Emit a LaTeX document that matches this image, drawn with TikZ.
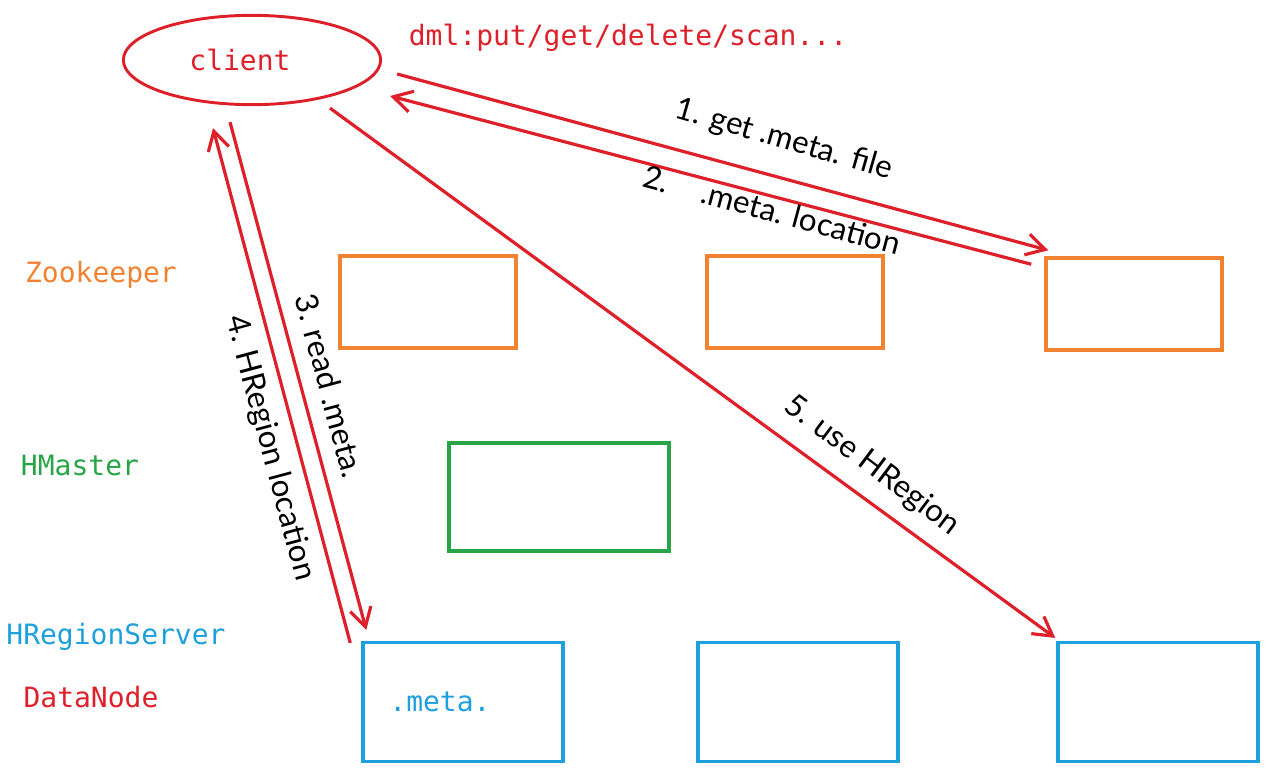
\documentclass[tikz,border=0pt]{standalone}
\usepackage{fontspec}
\setmonofont{DejaVu Sans Mono}
\newfontfamily\handfont{Lato}
\usetikzlibrary{arrows.meta,shapes.geometric,positioning}
\definecolor{hbred}{RGB}{222,32,42}
\definecolor{hborange}{RGB}{240,130,50}
\definecolor{hbgreen}{RGB}{40,165,70}
\definecolor{hbblue}{RGB}{30,160,220}
\begin{document}
\begin{tikzpicture}[x=0.75pt,y=-0.75pt,
	mono/.style={font=\ttfamily\fontsize{21}{24}\selectfont},
	hand/.style={font=\handfont\fontsize{23.5}{26}\selectfont,text=black},
	zkbox/.style={draw=hborange,line width=2.6pt,minimum width=132pt,minimum height=69pt},
	hmbox/.style={draw=hbgreen,line width=2.6pt,minimum width=165pt,minimum height=81pt},
	rsbox/.style={draw=hbblue,line width=2.6pt,minimum width=150pt,minimum height=89pt},
	flow/.style={draw=hbred,line width=2.4pt,-{Straight Barb[length=14pt,width=16pt,line width=2.4pt]}}]
\useasboundingbox (0,0) rectangle (1285,778);
\node [ellipse,draw=hbred,line width=2.2pt,minimum width=193pt,minimum height=67pt] (client) at (252,60){};
\node [mono,text=hbred] (clienttxt) at (240,60){client};
\node [mono,text=hbred] (dml) at (628,38){dml:put/get/delete/scan...};
\node [mono,text=hborange] (zklbl) at (101,275){Zookeeper};
\node [mono,text=hbgreen] (hmlbl) at (80,465){HMaster};
\node [mono,text=hbblue] (rslbl) at (116,637){HRegionServer};
\node [mono,text=hbred] (dnlbl) at (91,697){DataNode};
\node [zkbox] (zka) at (428,302){};
\node [zkbox] (zkb) at (795,302){};
\node [zkbox] (zkc) at (1134,304){};
\node [hmbox] (hm) at (559,497){};
\node [rsbox] (rsa) at (463,702){};
\node [rsbox] (rsb) at (798,702){};
\node [rsbox] (rsc) at (1158,702){};
\node [mono,text=hbblue] (metatxt) at (440,702){.meta.};
\draw [flow] ([shift={(15,14)}]client.east) -- ([shift={(4,-6)}]zkc.north west);
\draw [flow] ([shift={(-13,8)}]zkc.north west) -- ([shift={(8,36)}]client.east);
\draw [flow] ([shift={(-22,16)}]client.south) -- ([shift={(5,-11)}]rsa.north west);
\draw [flow] ([shift={(-11,2)}]rsa.north west) -- ([shift={(-39,22)}]client.south);
\draw [flow] ([shift={(78,2)}]client.south) -- ([shift={(-1,-3)}]rsc.north west);
\node [hand,rotate=-16] (step1) at (784,140){1. get .meta. file};
\node [hand,rotate=-15] (step2) at (772,210){2.~~~ .meta. location};
\node [hand,rotate=-75] (step3) at (330,386){3. read .meta.};
\node [hand,rotate=-75] (step4) at (270,448){4. HRegion location};
\node [hand,rotate=-37] (step5) at (872,466){5. use HRegion};
\end{tikzpicture}
\end{document}
